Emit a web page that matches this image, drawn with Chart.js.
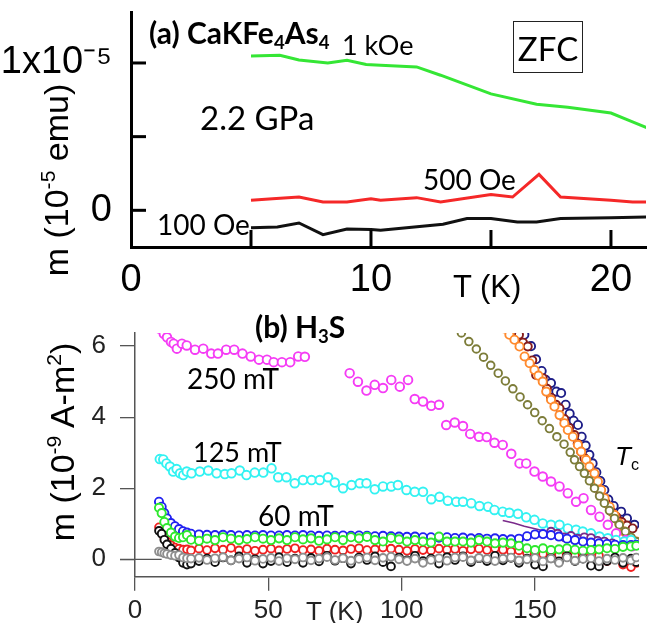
<!DOCTYPE html>
<html><head><meta charset="utf-8">
<script src="https://cdn.jsdelivr.net/npm/chart.js@4.4.0/dist/chart.umd.min.js"></script>
<style>
html,body{margin:0;padding:0;background:#fff;}
#wrap{position:relative;width:657px;height:623px;overflow:hidden;background:#fff;}
canvas{position:absolute;left:0;}
.t{position:absolute;white-space:nowrap;line-height:1;color:#000;}
.lato{font-family:Lato,sans-serif;}
.ar{font-family:"Liberation Sans",Arial,sans-serif;}
.rot{transform:translate(-50%,-50%) rotate(-90deg);}
sub{font-size:0.62em;vertical-align:-0.28em;line-height:0;}
sup{font-size:0.62em;vertical-align:0.6em;line-height:0;}
#zfc{position:absolute;left:513px;top:21px;width:70px;height:52px;border:1px solid #222;display:flex;align-items:center;justify-content:center;font-family:Lato,sans-serif;font-size:33px;line-height:1;padding-top:2px;box-sizing:border-box;}
</style></head><body>
<div id="wrap">
<canvas id="ca" width="657" height="305" style="top:0;width:657px;height:305px"></canvas>
<canvas id="cb" width="657" height="318" style="top:305px;width:657px;height:318px"></canvas>

<div class="t lato" style="left:149px;top:17px;font-size:30px;font-weight:700">(a) CaKFe<sub>4</sub>As<sub>4</sub></div>
<div class="t lato" style="left:342px;top:31px;font-size:27px">1 kOe</div>
<div class="t lato" style="left:200px;top:101px;font-size:33px">2.2 GPa</div>
<div id="zfc">ZFC</div>
<div class="t lato" style="left:423px;top:165px;font-size:28px">500 Oe</div>
<div class="t lato" style="left:157px;top:210px;font-size:28px">100 Oe</div>
<div class="t ar" style="left:453px;top:271px;font-size:31px">T (K)</div>
<div class="t ar rot" style="left:56px;top:180px;font-size:34px">m (10<sup>-5</sup> emu)</div>

<div class="t lato" style="left:255px;top:310.5px;font-size:30px;font-weight:700">(b) H<sub>3</sub>S</div>
<div class="t lato" style="left:187px;top:363.5px;font-size:28px">250 mT</div>
<div class="t lato" style="left:193px;top:438px;font-size:27px">125 mT</div>
<div class="t lato" style="left:258px;top:501px;font-size:28px">60 mT</div>
<div class="t ar" style="left:615px;top:443px;font-size:26px"><i>T</i><sub>c</sub></div>
<div class="t ar" style="left:306px;top:598px;font-size:26px;color:#222">T (K)</div>
<div class="t ar rot" style="left:62px;top:442px;font-size:34px">m (10<sup>-9</sup> A-m<sup>2</sup>)</div>
</div>

<script>
// ---------------- Panel (a): CaKFe4As4, m in units of 1e-5 emu ----------------
const aGreenT = [5, 6.2, 7, 8.2, 9, 9.8, 10.4, 11.9, 12.9, 15, 16.9, 18.2, 20, 20.9, 21.5];
const aGreenM = [1.048, 1.052, 1.02, 1.0, 1.018, 0.99, 0.984, 0.973, 0.917, 0.79, 0.72, 0.70, 0.66, 0.60, 0.56];
const aRedT = [5, 5.9, 7, 8, 9, 10, 10.4, 11.9, 12.9, 15, 15.9, 17, 17.9, 20, 20.9, 21.5];
const aRedM = [0.068, 0.079, 0.09, 0.056, 0.056, 0.079, 0.068, 0.086, 0.056, 0.107, 0.09, 0.244, 0.09, 0.068, 0.056, 0.056];
const aBlackT = [5, 6.1, 7, 8, 9, 10, 10.4, 13, 14, 15, 16.1, 16.9, 17.9, 20, 21.5];
const aBlackM = [-0.118, -0.113, -0.086, -0.165, -0.127, -0.131, -0.136, -0.095, -0.056, -0.056, -0.079, -0.079, -0.056, -0.05, -0.045];
const aXTicks = [0, 10, 20];

// ---------------- Panel (b): H3S, m in units of 1e-9 A m^2 ----------------
const tLow = [9, 10, 11, 12, 13.5, 15, 16.5, 18, 19.5, 21,
  24, 27, 30, 33, 36, 39, 42, 45, 48, 51,
  54, 57, 60, 63, 66, 69, 72, 75, 78, 81,
  84, 87, 90, 93, 96, 99, 102, 105, 108, 111,
  114, 117, 120, 123, 126, 129, 132, 135, 138, 141,
  144, 147, 150, 153, 156, 159, 162, 165, 168, 171,
  174, 177, 180, 183, 186, 188];
const grayM = [0.22, 0.20, 0.17, 0.15, 0.12, 0.10, 0.12, 0.05, 0.03, 0.02,
  0.04, -0.02, 0.03, 0.06, -0.03, 0.02, 0.05, -0.04, 0.01, 0.04,
  -0.05, 0.03, 0.00, 0.05, -0.03, 0.02, 0.06, -0.02, 0.03, -0.04,
  0.01, 0.05, -0.03, 0.04, 0.07, 0.00, -0.05, 0.02, -0.10, -0.02,
  0.03, -0.04, 0.05, 0.06, -0.03, 0.04, 0.01, -0.05, 0.02, 0.05,
  -0.03, 0.00, 0.04, -0.06, 0.02, -0.10, 0.05, -0.04, 0.01, 0.03,
  -0.05, 0.02, -0.02, 0.04, -0.03, 0.05];
const blackM = [0.80, 0.72, 0.55, 0.42, 0.30, 0.18, 0.05, -0.10, -0.15, -0.12,
  -0.05, 0.02, -0.08, 0.05, -0.03, 0.08, -0.10, 0.00, -0.12, -0.05,
  0.06, -0.08, 0.02, -0.10, 0.04, -0.06, 0.10, -0.04, 0.03, -0.12,
  0.05, -0.02, 0.08, -0.08, -0.20, 0.05, -0.03, 0.10, -0.05, 0.02,
  -0.12, 0.06, -0.02, 0.08, -0.08, 0.03, -0.05, 0.10, -0.03, 0.04,
  -0.10, 0.02, -0.15, -0.20, 0.03, -0.06, 0.08, -0.05, 0.02, -0.18,
  -0.20, -0.05, 0.05, -0.10, 0.02, -0.08];
const redM = [0.90, 0.78, 0.62, 0.50, 0.40, 0.33, 0.30, 0.27, 0.28, 0.25,
  0.30, 0.26, 0.31, 0.27, 0.32, 0.25, 0.29, 0.24, 0.27, 0.30,
  0.25, 0.29, 0.31, 0.26, 0.28, 0.24, 0.30, 0.27, 0.25, 0.29,
  0.31, 0.26, 0.28, 0.33, 0.30, 0.27, 0.24, 0.29, 0.26, 0.25,
  0.30, 0.27, 0.29, 0.24, 0.28, 0.30, 0.26, 0.31, 0.27, 0.22,
  0.25, 0.18, 0.22, 0.15, 0.20, 0.12, 0.18, 0.10, 0.15, 0.05,
  0.10, -0.05, 0.02, -0.15, -0.22, -0.10];
const greenM = [1.45, 1.30, 1.05, 0.88, 0.75, 0.64, 0.60, 0.62, 0.68, 0.55,
  0.52, 0.58, 0.54, 0.62, 0.58, 0.54, 0.57, 0.62, 0.58, 0.54,
  0.59, 0.54, 0.62, 0.56, 0.59, 0.52, 0.56, 0.62, 0.54, 0.62,
  0.59, 0.63, 0.54, 0.50, 0.60, 0.56, 0.50, 0.54, 0.50, 0.47,
  0.64, 0.50, 0.50, 0.50, 0.47, 0.54, 0.50, 0.45, 0.47, 0.45,
  0.38, 0.31, 0.26, 0.31, 0.26, 0.28, 0.31, 0.27, 0.24, 0.26,
  0.28, 0.31, 0.29, 0.35, 0.36, 0.38];
const blueM = [1.62, 1.48, 1.30, 1.15, 1.02, 0.93, 0.85, 0.79, 0.75, 0.72,
  0.70, 0.69, 0.68, 0.69, 0.68, 0.67, 0.68, 0.67, 0.68, 0.67,
  0.67, 0.68, 0.67, 0.68, 0.67, 0.66, 0.67, 0.66, 0.67, 0.66,
  0.67, 0.66, 0.65, 0.66, 0.65, 0.64, 0.63, 0.64, 0.62, 0.62,
  0.61, 0.62, 0.60, 0.61, 0.59, 0.60, 0.58, 0.59, 0.57, 0.56,
  0.58, 0.65, 0.70, 0.71, 0.68, 0.64, 0.58, 0.54, 0.50, 0.47,
  0.45, 0.43, 0.41, 0.40, 0.40, 0.41];

const cyanT = [9.3, 10.6, 11.8, 13.1, 14.3, 15.6, 16.9, 18.1, 19.4, 21.2,
  24.3, 27.5, 30.6, 33.7, 36.2, 39.3, 41.8, 44.9, 48.1, 51.2,
  53.7, 56.8, 59.9, 63, 66.2, 69.3, 72.4, 74.9, 78, 81.2,
  84.3, 86.8, 89.9, 93, 96.1, 98.6, 101.8, 104.9, 108, 111.1,
  114.2, 117.3, 120.5, 123, 126.1, 129.2, 132.4, 134.8, 137.9, 140.4,
  143.6, 146.7, 149.8, 152.9, 156, 159.2, 162.3, 165.4, 167.9, 171,
  174.2, 177.3, 180.4, 183.5, 186];
const cyanM = [2.82, 2.81, 2.70, 2.61, 2.47, 2.54, 2.42, 2.37, 2.47, 2.42,
  2.47, 2.50, 2.42, 2.40, 2.42, 2.50, 2.37, 2.44, 2.44, 2.56,
  2.31, 2.31, 2.14, 2.23, 2.23, 2.23, 2.31, 2.16, 2.00, 2.09,
  2.14, 2.14, 1.97, 2.05, 2.05, 2.09, 1.95, 1.90, 1.90, 1.69,
  1.76, 1.65, 1.62, 1.62, 1.58, 1.50, 1.48, 1.39, 1.34, 1.31,
  1.28, 1.18, 1.11, 1.01, 0.97, 0.97, 0.87, 0.83, 0.78, 0.73,
  0.64, 0.59, 0.54, 0.50, 0.54];

const magT = [9, 10.8, 12, 13.5, 14.5, 15.7, 17.6, 19.4, 22.5, 25.6,
  28.6, 31.1, 34.2, 37.2, 40.3, 43.4, 46.5, 49.5, 52, 55.1,
  58.2, 61.2, 63.7, 80.5, 83.6, 86.8, 89.9, 93, 96.1, 99.3,
  102.4, 104.9, 108, 111.1, 114, 116.7, 119.9, 123, 125.7, 129,
  131.9, 134.8, 137.9, 141.1, 144.2, 146.7, 149.8, 152.9, 156, 159.2,
  162.3, 165.4, 168.2, 171, 174.2, 177.3, 180.4, 184.1, 186.6];
const magM = [6.5, 6.35, 6.25, 6.12, 6.07, 5.93, 6.07, 6.02, 5.90, 5.93,
  5.79, 5.79, 5.90, 5.90, 5.79, 5.71, 5.62, 5.62, 5.55, 5.55,
  5.55, 5.71, 5.70, 5.24, 5.00, 4.75, 4.91, 4.82, 5.05, 4.86,
  5.05, 4.51, 4.44, 4.32, 4.35, 3.78, 3.85, 3.75, 3.53, 3.45,
  3.44, 3.28, 3.22, 2.97, 2.70, 2.70, 2.47, 2.33, 2.19, 2.05,
  1.86, 1.62, 1.72, 1.39, 1.20, 0.97, 0.73, 0.54, 0.37];

const oliveT = [119.5, 122.4, 125.2, 128, 130.7, 133.4, 136.2, 138.9, 141.7, 144.4,
  147.2, 149.9, 152.7, 155.4, 158.2, 160.9, 163.2, 164.8, 166.7, 168.5,
  170.4, 172.3, 174.2, 176, 177.9, 179.8, 181.6, 183.9, 186, 187.9];
const oliveM = [6.6, 6.37, 6.13, 5.92, 5.69, 5.46, 5.24, 5.02, 4.80, 4.57,
  4.35, 4.13, 3.90, 3.68, 3.45, 3.24, 3.01, 2.80, 2.61, 2.42,
  2.21, 2.00, 1.78, 1.58, 1.37, 1.15, 0.97, 0.78, 0.62, 0.50];

const orangeT = [138.5, 140.4, 142.3, 144.2, 146.1, 148, 149.8, 151.3, 152.9, 154.2,
  156, 157.3, 159.2, 161, 162.3, 164.2, 166.1, 167.3, 169.2, 170.4,
  172.3, 173.6, 174.8, 176.1, 178, 179.8, 181.6, 183.5, 186, 188.1];
const orangeM = [6.5, 6.32, 6.18, 5.99, 5.71, 5.52, 5.33, 5.17, 5.0, 4.72,
  4.49, 4.30, 4.06, 3.83, 3.64, 3.45, 3.22, 3.03, 2.80, 2.61,
  2.42, 2.19, 1.95, 1.72, 1.48, 1.25, 1.01, 0.78, 0.59, 0.50];

const navyT = [146, 148.5, 150.4, 152.5, 154, 156, 158, 159.8, 161.5, 163,
  164.5, 166.1, 167.5, 169, 170.4, 171.6, 173, 174.5, 176, 177.5,
  179.5, 182.3, 184.5, 187.3];
const navyM = [6.32, 6.0, 5.63, 5.3, 5.05, 4.96, 4.72, 4.68, 4.35, 4.1,
  3.9, 3.78, 3.45, 3.2, 2.94, 2.7, 2.45, 2.2, 1.95, 1.68,
  1.5, 1.34, 1.15, 0.97];

const maroonT = [144, 145.5, 147.3, 149, 150.4, 152.9, 154.5, 156, 157.9, 159.2,
  161, 162.8, 164.8, 166, 167.3, 168.5, 170.4, 172.5, 174.5, 176.5,
  178.5, 180.5, 182.5, 184.5, 186.6];
const maroonM = [6.32, 6.1, 5.99, 5.6, 5.19, 5.10, 4.8, 4.55, 4.35, 4.25,
  3.95, 3.7, 3.50, 3.25, 3.03, 2.85, 2.37, 2.1, 1.85, 1.6,
  1.35, 1.2, 1.05, 0.95, 0.87];

const purpleLineT = [137.9, 142, 146, 150, 154.2, 158];
const purpleLineM = [1.09, 1.02, 0.93, 0.86, 0.78, 0.72];
const purpleT = [156, 158.5, 161, 163.5, 166, 168.5, 171, 173.5, 176, 179];
const purpleM = [0.78, 0.72, 0.62, 0.66, 0.58, 0.62, 0.60, 0.52, 0.50, 0.45];

const bYTicks = [0, 2, 4, 6];
const bXTicks = [0, 50, 100, 150];
const zeroLineEndT = 10;

// ---------------- helpers ----------------
const pts = (T, M) => T.map((t, i) => ({x: t, y: M[i]}));
const lineSet = (label, T, M, color, w) => ({label, data: pts(T, M), showLine: true, borderColor: color,
  borderWidth: w, pointRadius: 0, tension: 0, fill: false});
const circSet = (label, T, M, color, r) => ({label, data: pts(T, M), showLine: false, pointStyle: 'circle',
  pointRadius: r, pointBorderWidth: 1.9, pointBorderColor: color, pointBackgroundColor: '#fff',
  borderColor: color, backgroundColor: '#fff'});
const noPad = s => { s.paddingTop = 0; s.paddingBottom = 0; s.paddingLeft = 0; s.paddingRight = 0; };

const insideTicks = {
  id: 'insideTicks',
  afterDraw(chart) {
    const {ctx, chartArea: a} = chart;
    const x = chart.scales.x, y = chart.scales.y;
    ctx.save();
    ctx.strokeStyle = '#000'; ctx.lineWidth = 3; ctx.lineCap = 'butt';
    x.ticks.forEach(t => { if (t.value <= 0) return; const px = x.getPixelForValue(t.value);
      ctx.beginPath(); ctx.moveTo(px, a.bottom); ctx.lineTo(px, a.bottom - 17); ctx.stroke(); });
    y.ticks.forEach(t => { const py = y.getPixelForValue(t.value);
      ctx.beginPath(); ctx.moveTo(a.left, py); ctx.lineTo(a.left + 15, py); ctx.stroke(); });
    ctx.restore();
  }
};
const zeroLine = {
  id: 'zeroLine',
  afterDraw(chart) {
    const {ctx} = chart; const x = chart.scales.x, y = chart.scales.y;
    const py = y.getPixelForValue(0);
    ctx.save(); ctx.strokeStyle = '#555'; ctx.lineWidth = 1.3;
    ctx.beginPath(); ctx.moveTo(x.getPixelForValue(0) - 15, py); ctx.lineTo(x.getPixelForValue(zeroLineEndT), py); ctx.stroke();
    ctx.restore();
  }
};

// ---------------- Chart (a) ----------------
new Chart(document.getElementById('ca'), {
  type: 'scatter',
  data: {datasets: [
    lineSet('100 Oe', aBlackT, aBlackM, '#111', 3),
    lineSet('500 Oe', aRedT, aRedM, '#f52828', 3),
    lineSet('1 kOe', aGreenT, aGreenM, '#35e635', 3)
  ]},
  options: {
    responsive: false, animation: false, devicePixelRatio: 1,
    layout: {padding: {left: 0, right: 11, top: 12, bottom: 0}},
    plugins: {legend: {display: false}, tooltip: {enabled: false}},
    scales: {
      x: {type: 'linear', min: 0, max: 21.46, afterFit(s) { s.height = 58; noPad(s); },
        ticks: {stepSize: 5, includeBounds: false, autoSkip: false, maxRotation: 0, padding: 11, color: '#000',
          font: {family: 'Liberation Sans', size: 38},
          callback: v => aXTicks.includes(v) ? String(v) : ''},
        grid: {display: false, drawTicks: false}, border: {display: true, color: '#000', width: 3}},
      y: {type: 'linear', min: -0.249, max: 1.346, afterFit(s) { s.width = 131; noPad(s); },
        ticks: {stepSize: 0.5, includeBounds: false, autoSkip: false, padding: 19, color: '#000',
          font: {family: 'Liberation Sans', size: 38},
          callback: v => Math.abs(v - 1) < 1e-9 ? '1x10\u207B\u2075' : (Math.abs(v) < 1e-9 ? '0' : '')},
        grid: {display: false, drawTicks: false}, border: {display: true, color: '#000', width: 3}}
    }
  },
  plugins: [insideTicks]
});

// ---------------- Chart (b) ----------------
new Chart(document.getElementById('cb'), {
  type: 'scatter',
  data: {datasets: [
    circSet('gray', tLow, grayM, '#8e8e8e', 3.9),
    circSet('black', tLow, blackM, '#111', 3.9),
    circSet('60 mT', tLow, greenM, '#2ee82e', 4.1),
    circSet('red', tLow, redM, '#f02020', 3.9),
    circSet('blue', tLow, blueM, '#2222f0', 4.1),
    circSet('purple', purpleT, purpleM, '#7a2a8a', 3.9),
    lineSet('purple line', purpleLineT, purpleLineM, '#7a2a8a', 1.6),
    circSet('125 mT', cyanT, cyanM, '#33f2f2', 4.3),
    circSet('250 mT', magT, magM, '#f53cf5', 4.3),
    circSet('olive', oliveT, oliveM, '#7d7d3a', 3.8),
    circSet('orange', orangeT, orangeM, '#ff8a2e', 4.1),
    circSet('maroon', maroonT, maroonM, '#861c1c', 4.0),
    circSet('navy', navyT, navyM, '#1e1e88', 4.1)
  ]},
  options: {
    responsive: false, animation: false, devicePixelRatio: 1,
    layout: {padding: {left: 0, right: 18, top: 28, bottom: 0}},
    plugins: {legend: {display: false}, tooltip: {enabled: false}},
    scales: {
      x: {type: 'linear', min: 0, max: 189, afterFit(s) { s.height = 46.3; noPad(s); },
        ticks: {stepSize: 50, includeBounds: false, autoSkip: false, maxRotation: 0, padding: 5, color: '#222',
          font: {family: 'Liberation Sans', size: 26},
          callback: v => bXTicks.includes(v) ? String(v) : ''},
        grid: {display: true, drawOnChartArea: false, drawTicks: true, tickLength: 14, color: '#555', lineWidth: 1.3},
        border: {display: true, color: '#555', width: 1.5}},
      y: {type: 'linear', min: -0.49, max: 6.37, afterFit(s) { s.width = 135; noPad(s); },
        ticks: {stepSize: 2, includeBounds: false, autoSkip: false, padding: 14, color: '#222',
          font: {family: 'Liberation Sans', size: 26},
          callback: v => bYTicks.includes(v) ? String(v) : ''},
        grid: {display: true, drawOnChartArea: false, drawTicks: true, tickLength: 15, color: '#555', lineWidth: 1.3},
        border: {display: true, color: '#555', width: 1.5}}
    }
  },
  plugins: [zeroLine]
});
</script>
</body></html>
